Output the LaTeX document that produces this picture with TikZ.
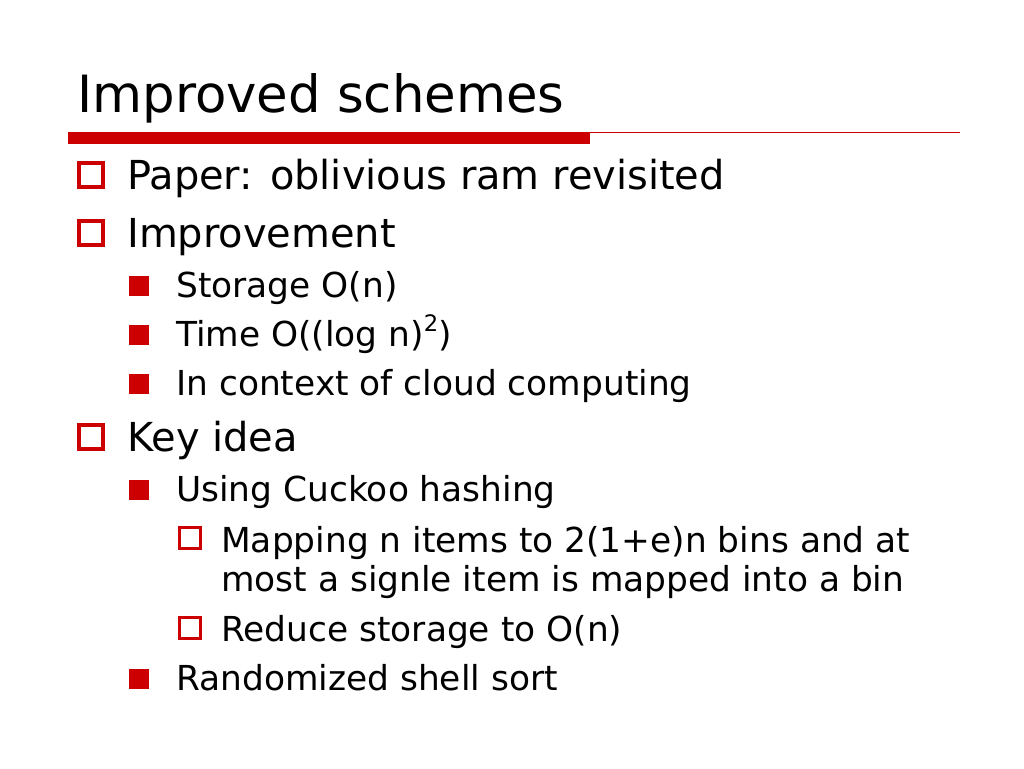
\documentclass[tikz,border=0pt]{standalone}
\usepackage{fontspec}
\setmainfont{DejaVu Sans}
\definecolor{slidered}{HTML}{CC0000}
\begin{document}
\begin{tikzpicture}[x=0.75pt,y=-0.75pt,
  txt/.style={anchor=base west, inner sep=0pt, text=black},
  ttl/.style={txt, font=\fontsize{38.5}{46}\selectfont},
  lone/.style={txt, font=\fontsize{29.95}{36}\selectfont},
  ltwo/.style={txt, font=\fontsize{25.8}{30}\selectfont},
  hboxA/.style={draw=slidered, line width=2.7pt, minimum size=18pt, inner sep=0pt},
  hboxC/.style={draw=slidered, line width=2.2pt, minimum size=16pt, inner sep=0pt},
  fbox/.style={fill=slidered, minimum size=15pt, inner sep=0pt},
]
\useasboundingbox[fill=white] (0,0) rectangle (1024,768);
% title
\node[ttl] (title) at (77,112) {Improved schemes};
\fill[slidered] (68,131.5) rectangle (590,144);
\draw[slidered, line width=0.9pt] (590,132.3) -- (960,132.3);
% level 1
\node[hboxA] (b1) at (91,175) {};
\node[lone] (t1) at (127,189) {Paper: oblivious ram revisited};
\node[hboxA] (b2) at (91,233) {};
\node[lone] (t2) at (127,247) {Improvement};
% level 2
\node[fbox] (b3) at (139,286) {};
\node[ltwo] (t3) at (176,297) {Storage O(n)};
\node[fbox] (b4) at (139,335) {};
\node[ltwo] (t4) at (176,346) {Time O((log n)\raisebox{0.42em}{\fontsize{17}{17}\selectfont 2})};
\node[fbox] (b5) at (139,384) {};
\node[ltwo] (t5) at (176,395) {In context of cloud computing};
% key idea
\node[hboxA] (b6) at (91,437) {};
\node[lone] (t6) at (127,451) {Key idea};
\node[fbox] (b7) at (139,490) {};
\node[ltwo] (t7) at (176,501) {Using Cuckoo hashing};
\node[hboxC] (b8) at (190,538) {};
\node[ltwo] (t8) at (221,552) {Mapping n items to 2(1+e)n bins and at};
\node[ltwo] (t9) at (221,591) {most a signle item is mapped into a bin};
\node[hboxC] (b10) at (190,628) {};
\node[ltwo] (t10) at (221,641) {Reduce storage to O(n)};
\node[fbox] (b11) at (139,679) {};
\node[ltwo] (t11) at (176,690) {Randomized shell sort};
\end{tikzpicture}
\end{document}
